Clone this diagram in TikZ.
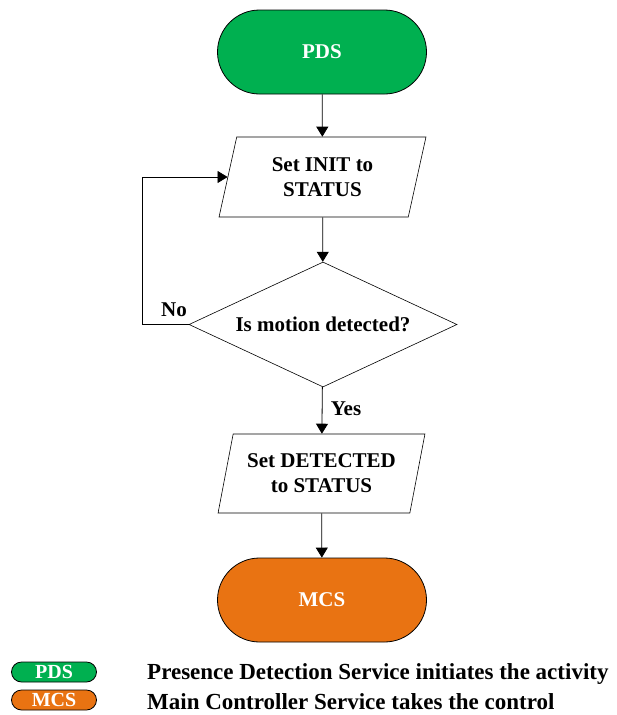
\documentclass[tikz,border=0pt]{standalone}
\usepackage{fontspec}
\setmainfont{Liberation Serif}
\usetikzlibrary{shapes.geometric,shapes.misc,arrows.meta}
\definecolor{pdsgreen}{HTML}{00B050}
\definecolor{mcsorange}{HTML}{E97312}
\begin{document}
\begin{tikzpicture}[x=1pt,y=-1pt,
  every node/.style={font=\fontsize{21}{25}\selectfont\bfseries},
  service/.style={rounded rectangle, draw=black, line width=0.8pt, text=white,
    minimum width=209pt, minimum height=84pt, inner sep=0pt},
  legendbox/.style={rounded rectangle, draw=black, line width=0.8pt, text=white,
    minimum width=85pt, minimum height=20pt, inner sep=0pt,
    font=\fontsize{20}{20}\selectfont\bfseries},
  iobox/.style={trapezium, trapezium stretches=true, draw=black, line width=0.6pt,
    align=center, inner sep=0pt},
  decision/.style={diamond, aspect=2.14, draw=black, line width=0.6pt, inner sep=0pt,
    minimum width=268pt, minimum height=125pt},
  flow/.style={draw=black, line width=0.8pt, -{Triangle[length=10pt,width=12pt]}},
  caption/.style={anchor=base west, inner sep=0pt, font=\fontsize{23}{26}\selectfont\bfseries}]
  \useasboundingbox (0,0) rectangle (616,715);
  % services
  \node[service, fill=pdsgreen] (pds) at (322,52) {PDS};
  \node[service, fill=mcsorange] (mcs) at (322,600) {MCS};
  % process steps
  \node[iobox, trapezium left angle=75, trapezium right angle=105,
        minimum width=207pt, minimum height=80pt] (init) at (322.5,177) {Set INIT to\\STATUS};
  \node[decision] (motion) at (323,324.5) {Is motion detected?};
  \node[iobox, trapezium left angle=72, trapezium right angle=108,
        minimum width=207pt, minimum height=79pt] (det) at (321.5,473.5) {Set DETECTED\\to STATUS};
  % connectors
  \draw[flow] (pds) -- (init);
  \draw[flow] (init) -- (motion);
  \draw[flow] (motion.west) -- ++(-46,0) |- (init.west);
  \draw[flow] (motion) -- (det);
  \draw[flow] (det) -- (mcs);
  \node[inner sep=0pt] (no) at (174,310) {No};
  \node[inner sep=0pt] (yes) at (346,409) {Yes};
  % legend
  \node[legendbox, fill=pdsgreen] (lpds) at (54,672) {PDS};
  \node[legendbox, fill=mcsorange] (lmcs) at (54,700) {MCS};
  \node[caption] (cpds) at (147,679) {Presence Detection Service initiates the activity};
  \node[caption] (cmcs) at (147,709) {Main Controller Service takes the control};
\end{tikzpicture}
\end{document}
